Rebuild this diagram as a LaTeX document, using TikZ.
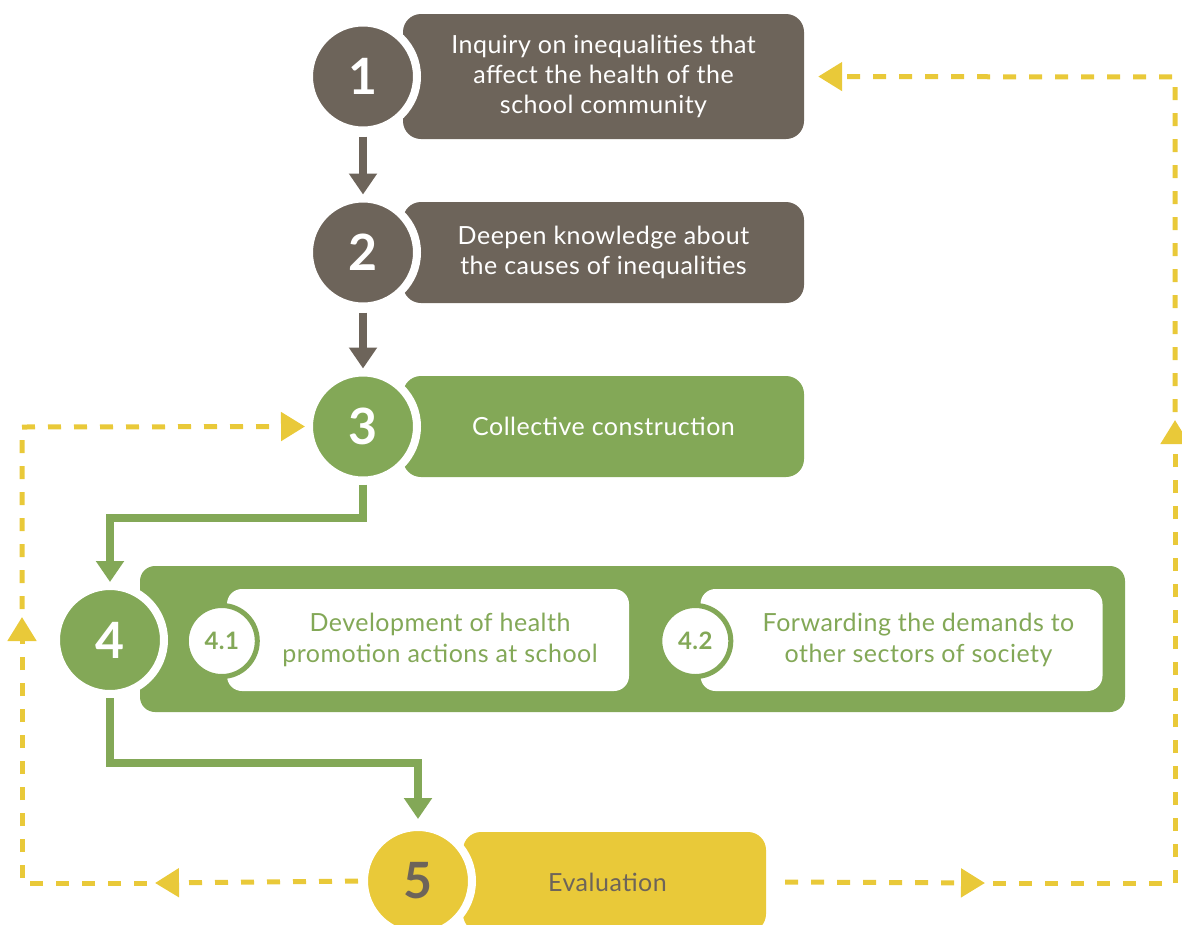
\documentclass[tikz,border=0pt]{standalone}
\usepackage{fontspec}
\setmainfont{Lato}[LetterSpace=2]
\usetikzlibrary{calc,arrows.meta}

\definecolor{stone}{HTML}{6D645A}
\definecolor{leaf}{HTML}{83A857}
\definecolor{mustard}{HTML}{E9C939}

\tikzset{
  numcircle/.style={circle, minimum size=108pt, inner sep=0pt, draw=white, line width=8pt,
    text=white, font=\fontsize{50}{50}\selectfont\bfseries},
  stepbox/.style={rectangle, rounded corners=18pt, minimum width=401pt, inner sep=0pt,
    align=center, text=white, font=\fontsize{25}{30}\selectfont},
  subcircle/.style={circle, minimum size=71pt, inner sep=0pt, fill=white, draw=leaf, line width=5pt,
    text=leaf, font=\fontsize{24}{24}\selectfont\bfseries},
  subbox/.style={rectangle, rounded corners=15pt, fill=white, minimum width=402pt, minimum height=102pt},
  subtext/.style={align=center, text=leaf, font=\fontsize{25}{31}\selectfont},
  flowarrow/.style={line width=8.5pt, -{Triangle[length=21pt,width=27pt]}},
  feedback/.style={mustard, line width=5pt, dash pattern=on 13pt off 13pt,
    -{Triangle[length=24pt,width=28pt]}},
}

\begin{document}
\begin{tikzpicture}[x=1pt,y=-1pt]
  \clip (0,0) rectangle (1182,924);

  \foreach \n/\y/\h/\col/\txt in {1/76.5/125/stone/{Inquiry on inequalities that\\affect the health of the\\school community},
      2/252.5/101/stone/{Deepen knowledge about\\the causes of inequalities},
      3/426.5/101/leaf/{Collective construction}}{
    \node[stepbox, fill=\col, minimum height=\h pt] (b\n) at (603.5,\y) {\txt};
    \node[numcircle, fill=\col] (c\n) at (363,\y) {\n};
  }

  % step 4 with its two actions
  \node[stepbox, fill=leaf, minimum width=985pt, minimum height=146pt, rounded corners=15pt] (b4) at (632.5,639) {};
  \node[numcircle, fill=leaf] (c4) at (110,640) {4};
  \foreach \n/\x in {1/428, 2/901.5}{
    \node[subbox] (b4\n) at (\x,640) {};
    \node[subcircle] (c4\n) at ($(b4\n.west)+(-5,1)$) {4.\n};
  }
  \node[subtext] (t41) at ($(b41)+(12,0)$) {Development of health\\promotion actions at school};
  \node[subtext] (t42) at ($(b42)+(17,0)$) {Forwarding the demands to\\other sectors of society};

  \node[stepbox, fill=mustard, minimum width=303pt, minimum height=100pt] (b5) at (614.5,882) {};
  \node[text=stone, font=\fontsize{25}{30}\selectfont] (t5) at ($(b5)+(-7,0)$) {Evaluation};
  \node[numcircle, fill=mustard, text=stone] (c5) at (418,881) {5};

  \draw[flowarrow, stone] ([yshift=-2pt]c1.south) -- (c2.north);
  \draw[flowarrow, stone] ([yshift=-2pt]c2.south) -- (c3.north);
  \draw[flowarrow, leaf] (c3.south) |- ([yshift=64pt]c4.north) -- (c4.north);
  \draw[flowarrow, leaf] (c4.south) |- ([yshift=60pt]c5.north) -- ([yshift=4pt]c5.north);

  % feedback loops
  \coordinate (ra) at (985,883);
  \coordinate (rb) at (1175,883);
  \coordinate (rv) at (1175,420);
  \coordinate (rt) at (1175,77);
  \coordinate (la) at (155,883);
  \coordinate (lb) at (22,883);
  \coordinate (lv) at (22,617);
  \coordinate (lt) at (22,427);

  \draw[feedback] ([xshift=19pt]b5.east) -- (ra);
  \draw[feedback, shorten <=8pt] (ra) -- (rb) -- (rv);
  \draw[feedback, shorten <=8pt, shorten >=14pt] (rv) -- (rt) -- (b1.east);
  \draw[feedback] ([xshift=-2pt]c5.west) -- (la);
  \draw[feedback, shorten <=8pt] (la) -- (lb) -- (lv);
  \draw[feedback, shorten <=8pt] (lv) -- (lt) -- (c3.west);
\end{tikzpicture}
\end{document}
